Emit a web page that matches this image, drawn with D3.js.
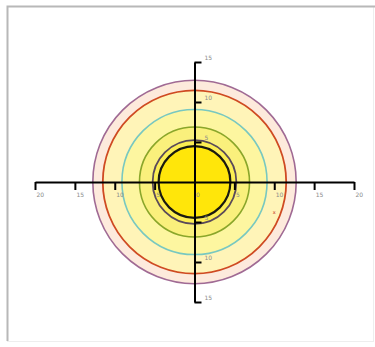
<!DOCTYPE html>
<html>
<head>
<meta charset="utf-8">
<script src="https://cdn.jsdelivr.net/npm/d3@7"></script>
<style>
  body { margin: 0; background: #fff; }
  svg { display: block; }
</style>
</head>
<body>
<div class="container"></div>
<script>
// rings, drawn from the outside in
const ringRadius = [12.75, 11.5, 9.1, 6.9, 5.25, 4.5];
const ringStroke = ['#a06a94', '#cf4a22', '#78c8c0', '#8aa62a', '#5a4a5a', '#1a1a10'];
const ringFill = ['#fdeadc', '#fff4b8', '#fdf6a0', '#faf07c', '#fcee52', '#ffe60a'];
const ringWidth = [1.6, 1.8, 1.6, 1.6, 1.8, 2.2];

const xTicks = [-20, -15, -10, -5, 0, 5, 10, 15, 20];
const yTicks = [-15, -10, -5, 5, 10, 15];
const marker = [[10, -4]];

const width = 375;
const height = 347;

const x = d3.scaleLinear().domain([-20, 20]).range([35, 354]);
const y = d3.scaleLinear().domain([-15, 15]).range([302, 62]);
const unit = x(1) - x(0);

const svg = d3.select('.container')
  .append('svg')
  .attr('width', width)
  .attr('height', height);

//Frame
svg.append('rect')
  .attr('x', 7.5).attr('y', 6.5)
  .attr('width', 366).attr('height', 335)
  .attr('fill', 'none')
  .attr('stroke', '#eeeeee');
svg.append('path')
  .attr('d', 'M7.5,341V6.5H375')
  .attr('fill', 'none')
  .attr('stroke', '#b8b8b8')
  .attr('stroke-width', 2);

svg.selectAll('circle.ring')
  .data(ringRadius)
  .join('circle')
  .attr('class', 'ring')
  .attr('cx', x(0))
  .attr('cy', y(0))
  .attr('r', d => d * unit)
  .attr('fill', (d, i) => ringFill[i])
  .attr('stroke', (d, i) => ringStroke[i])
  .attr('stroke-width', (d, i) => ringWidth[i]);

svg.selectAll('text.mark')
  .data(marker)
  .join('text')
  .attr('class', 'mark')
  .attr('x', d => x(d[0]))
  .attr('y', d => y(d[1]))
  .attr('text-anchor', 'middle')
  .attr('font-family', 'DejaVu Sans')
  .attr('font-size', 5)
  .attr('fill', '#c03020')
  .text('x');

//Horizontal axis
const xAxis = svg.append('g')
  .attr('transform', `translate(0,${y(0)})`)
  .call(d3.axisBottom(x)
    .tickValues(xTicks)
    .tickSize(8)
    .tickSizeOuter(0)
    .tickFormat(d => Math.abs(d)));

//Vertical axis
const yAxis = svg.append('g')
  .attr('transform', `translate(${x(0)},0)`)
  .call(d3.axisRight(y)
    .tickValues(yTicks)
    .tickSize(7)
    .tickSizeOuter(0)
    .tickFormat(d => Math.abs(d)));

[xAxis, yAxis].forEach(g => {
  g.select('.domain').attr('stroke', '#000').attr('stroke-width', 2);
  g.selectAll('.tick line').attr('stroke', '#000').attr('stroke-width', 2);
  g.selectAll('.tick text')
    .attr('fill', '#8a8a8a')
    .attr('font-family', 'DejaVu Sans')
    .attr('font-size', 6);
});

xAxis.selectAll('.tick text')
  .attr('text-anchor', 'start')
  .attr('x', 1)
  .attr('y', 11)
  .attr('dy', '0.71em');
xAxis.selectAll('.tick')
  .filter(d => d === 0)
  .select('line').remove();

yAxis.selectAll('.tick text')
  .attr('x', 10)
  .attr('dy', '-0.4em');
</script>
</body>
</html>
